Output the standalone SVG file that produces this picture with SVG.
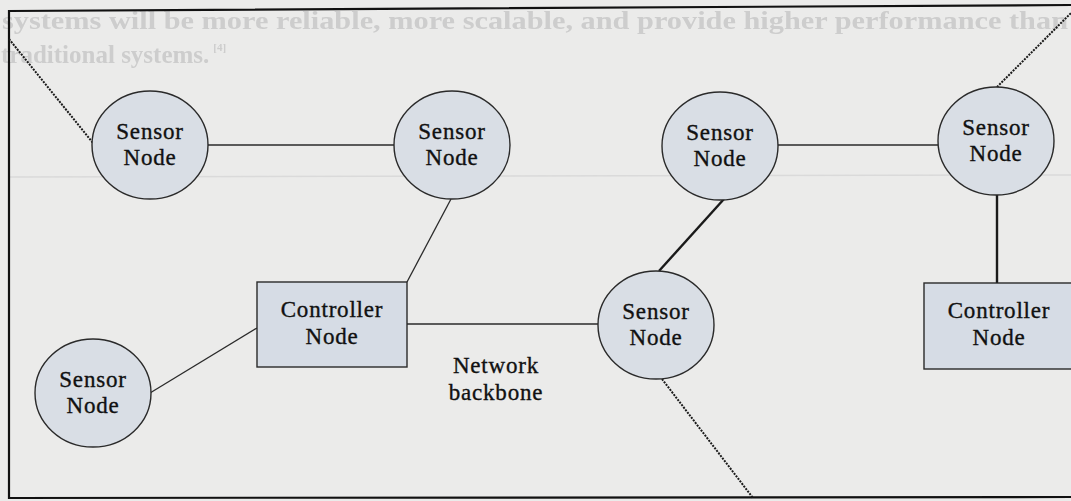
<svg xmlns="http://www.w3.org/2000/svg" width="1071" height="501" viewBox="0 0 1071 501">
  <defs>
    <filter id="soft" x="-2%" y="-20%" width="104%" height="140%">
      <feGaussianBlur stdDeviation="0.7"/>
    </filter>
  </defs>
  <style>
    .page { fill: #ebebea; }
    .ghost { font-family: "Liberation Serif", serif; font-size: 25px; font-weight: bold; fill: #cdcdcd; }
    .sensor { fill: #d9dee5; stroke: #2a2a2a; stroke-width: 1.4; }
    .ctrl { fill: #d6dce5; stroke: #2a2a2a; stroke-width: 1.4; }
    .lbl { font-family: "Liberation Serif", "Times New Roman", serif; font-size: 23px; letter-spacing: 0.8px; fill: #111; stroke: #111; stroke-width: 0.35; text-anchor: middle; }
    .link { stroke: #2a2a2a; stroke-width: 1.3; fill: none; }
    .heavy { stroke: #1a1a1a; stroke-width: 2.4; fill: none; }
    .wireless { stroke: #1a1a1a; stroke-width: 2; stroke-dasharray: 2 1.2; fill: none; }
    .frame { stroke: #111; stroke-width: 2.2; fill: none; }
  </style>

  <!-- page background with faint print from the sheet -->
  <rect class="page" x="0" y="0" width="1071" height="501"/>
  <g id="page-print" filter="url(#soft)">
    <text class="ghost" x="2" y="29" textLength="1066" lengthAdjust="spacingAndGlyphs">systems will be more reliable, more scalable, and provide higher performance than</text>
    <text class="ghost" x="1" y="63" font-size="21">traditional systems.<tspan dx="4" dy="-12" font-size="11">[4]</tspan></text>
    <line x1="10" y1="177" x2="1071" y2="175" stroke="#dadada" stroke-width="1.5"/>
  </g>

  <!-- outer frame -->
  <path class="frame" d="M1075,5 L9,11 L9,498 L1075,497"/>

  <!-- connectors -->
  <g id="connectors">
    <line class="wireless" x1="9" y1="39" x2="93" y2="143"/>
    <line class="link" x1="208" y1="145" x2="394" y2="145"/>
    <line class="link" x1="451" y1="199" x2="407" y2="282"/>
    <line class="link" x1="150" y1="393" x2="257" y2="328"/>
    <line class="link" x1="407" y1="324" x2="598" y2="324"/>
    <line class="heavy" x1="724" y1="199" x2="659" y2="271"/>
    <line class="wireless" x1="662" y1="379" x2="753" y2="498"/>
    <line class="link" x1="778" y1="145" x2="938" y2="145"/>
    <line class="heavy" x1="997" y1="195" x2="997" y2="283"/>
    <line class="wireless" x1="997" y1="87" x2="1071" y2="13"/>
  </g>

  <!-- nodes -->
  <g id="sensor-1">
    <ellipse class="sensor" cx="150" cy="145" rx="58" ry="54"/>
    <text class="lbl" x="150" y="139">Sensor</text>
    <text class="lbl" x="150" y="165">Node</text>
  </g>
  <g id="sensor-2">
    <ellipse class="sensor" cx="452" cy="145" rx="58" ry="54"/>
    <text class="lbl" x="452" y="139">Sensor</text>
    <text class="lbl" x="452" y="165">Node</text>
  </g>
  <g id="sensor-3">
    <ellipse class="sensor" cx="720" cy="146" rx="58" ry="54"/>
    <text class="lbl" x="720" y="140">Sensor</text>
    <text class="lbl" x="720" y="166">Node</text>
  </g>
  <g id="sensor-4">
    <ellipse class="sensor" cx="656" cy="325" rx="58" ry="54"/>
    <text class="lbl" x="656" y="319">Sensor</text>
    <text class="lbl" x="656" y="345">Node</text>
  </g>
  <g id="sensor-5">
    <ellipse class="sensor" cx="996" cy="141" rx="58" ry="54"/>
    <text class="lbl" x="996" y="135">Sensor</text>
    <text class="lbl" x="996" y="161">Node</text>
  </g>
  <g id="sensor-6">
    <ellipse class="sensor" cx="93" cy="393" rx="58" ry="54"/>
    <text class="lbl" x="93" y="387">Sensor</text>
    <text class="lbl" x="93" y="413">Node</text>
  </g>
  <g id="controller-1">
    <rect class="ctrl" x="257" y="282" width="150" height="85"/>
    <text class="lbl" x="332" y="317">Controller</text>
    <text class="lbl" x="332" y="344">Node</text>
  </g>
  <g id="controller-2">
    <rect class="ctrl" x="924" y="283" width="152" height="86"/>
    <text class="lbl" x="999" y="318">Controller</text>
    <text class="lbl" x="999" y="345">Node</text>
  </g>
  <g id="backbone-label">
    <text class="lbl" x="496" y="373">Network</text>
    <text class="lbl" x="496" y="400">backbone</text>
  </g>
</svg>
